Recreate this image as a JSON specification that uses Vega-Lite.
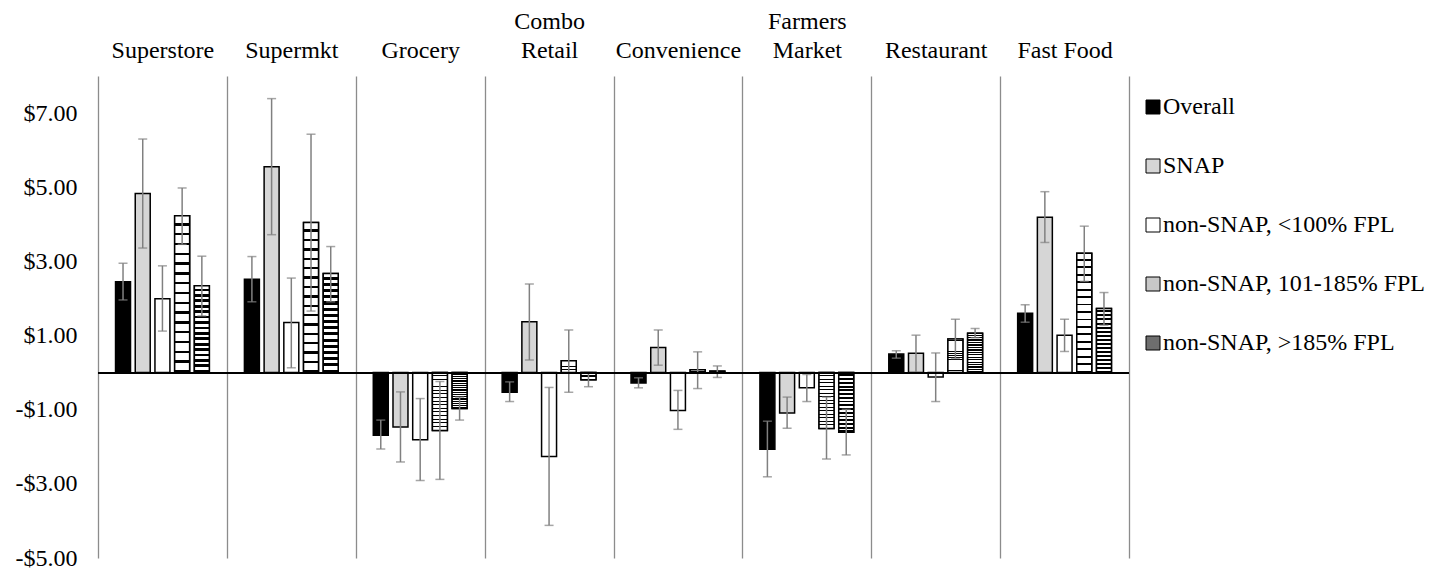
{
  "$schema": "https://vega.github.io/schema/vega-lite/v6.json",
  "autosize": {"type": "none"},
  "padding": {"left": 98, "top": 76, "right": 308, "bottom": 12},
  "width": 1031,
  "height": 482,
  "background": "white",
  "config": {
    "view": {"stroke": null},
    "font": "Liberation Serif"
  },
  "data": {
    "values": [
      {"cat": "Superstore", "grp": "Overall", "v": 2.45, "lo": 1.96, "hi": 2.95},
      {"cat": "Superstore", "grp": "SNAP", "v": 4.83, "lo": 3.36, "hi": 6.30},
      {"cat": "Superstore", "grp": "non-SNAP, <100% FPL", "v": 1.99, "lo": 1.12, "hi": 2.88},
      {"cat": "Superstore", "grp": "non-SNAP, 101-185% FPL", "v": 4.23, "lo": 3.46, "hi": 4.98},
      {"cat": "Superstore", "grp": "non-SNAP, >185% FPL", "v": 2.34, "lo": 1.53, "hi": 3.14},
      {"cat": "Supermkt", "grp": "Overall", "v": 2.52, "lo": 1.91, "hi": 3.13},
      {"cat": "Supermkt", "grp": "SNAP", "v": 5.55, "lo": 3.72, "hi": 7.39},
      {"cat": "Supermkt", "grp": "non-SNAP, <100% FPL", "v": 1.35, "lo": 0.13, "hi": 2.55},
      {"cat": "Supermkt", "grp": "non-SNAP, 101-185% FPL", "v": 4.05, "lo": 1.66, "hi": 6.43},
      {"cat": "Supermkt", "grp": "non-SNAP, >185% FPL", "v": 2.67, "lo": 1.91, "hi": 3.40},
      {"cat": "Grocery", "grp": "Overall", "v": -1.69, "lo": -2.06, "hi": -1.28},
      {"cat": "Grocery", "grp": "SNAP", "v": -1.47, "lo": -2.41, "hi": -0.52},
      {"cat": "Grocery", "grp": "non-SNAP, <100% FPL", "v": -1.81, "lo": -2.91, "hi": -0.70},
      {"cat": "Grocery", "grp": "non-SNAP, 101-185% FPL", "v": -1.56, "lo": -2.88, "hi": -0.24},
      {"cat": "Grocery", "grp": "non-SNAP, >185% FPL", "v": -0.97, "lo": -1.28, "hi": -0.66},
      {"cat": "Combo Retail", "grp": "Overall", "v": -0.53, "lo": -0.78, "hi": -0.25},
      {"cat": "Combo Retail", "grp": "SNAP", "v": 1.37, "lo": 0.34, "hi": 2.39},
      {"cat": "Combo Retail", "grp": "non-SNAP, <100% FPL", "v": -2.26, "lo": -4.12, "hi": -0.40},
      {"cat": "Combo Retail", "grp": "non-SNAP, 101-185% FPL", "v": 0.32, "lo": -0.53, "hi": 1.15},
      {"cat": "Combo Retail", "grp": "non-SNAP, >185% FPL", "v": -0.19, "lo": -0.38, "hi": 0.02},
      {"cat": "Convenience", "grp": "Overall", "v": -0.28, "lo": -0.41, "hi": -0.14},
      {"cat": "Convenience", "grp": "SNAP", "v": 0.68, "lo": 0.20, "hi": 1.15},
      {"cat": "Convenience", "grp": "non-SNAP, <100% FPL", "v": -1.02, "lo": -1.53, "hi": -0.48},
      {"cat": "Convenience", "grp": "non-SNAP, 101-185% FPL", "v": 0.08, "lo": -0.43, "hi": 0.56},
      {"cat": "Convenience", "grp": "non-SNAP, >185% FPL", "v": 0.04, "lo": -0.13, "hi": 0.18},
      {"cat": "Farmers Market", "grp": "Overall", "v": -2.07, "lo": -2.81, "hi": -1.31},
      {"cat": "Farmers Market", "grp": "SNAP", "v": -1.09, "lo": -1.50, "hi": -0.66},
      {"cat": "Farmers Market", "grp": "non-SNAP, <100% FPL", "v": -0.41, "lo": -0.78, "hi": -0.05},
      {"cat": "Farmers Market", "grp": "non-SNAP, 101-185% FPL", "v": -1.51, "lo": -2.33, "hi": -0.66},
      {"cat": "Farmers Market", "grp": "non-SNAP, >185% FPL", "v": -1.61, "lo": -2.22, "hi": -0.99},
      {"cat": "Restaurant", "grp": "Overall", "v": 0.50, "lo": 0.39, "hi": 0.59},
      {"cat": "Restaurant", "grp": "SNAP", "v": 0.52, "lo": 0.00, "hi": 1.01},
      {"cat": "Restaurant", "grp": "non-SNAP, <100% FPL", "v": -0.12, "lo": -0.78, "hi": 0.53},
      {"cat": "Restaurant", "grp": "non-SNAP, 101-185% FPL", "v": 0.91, "lo": 0.38, "hi": 1.44},
      {"cat": "Restaurant", "grp": "non-SNAP, >185% FPL", "v": 1.06, "lo": 0.94, "hi": 1.19},
      {"cat": "Fast Food", "grp": "Overall", "v": 1.60, "lo": 1.36, "hi": 1.83},
      {"cat": "Fast Food", "grp": "SNAP", "v": 4.19, "lo": 3.51, "hi": 4.88},
      {"cat": "Fast Food", "grp": "non-SNAP, <100% FPL", "v": 1.01, "lo": 0.57, "hi": 1.44},
      {"cat": "Fast Food", "grp": "non-SNAP, 101-185% FPL", "v": 3.22, "lo": 2.46, "hi": 3.95},
      {"cat": "Fast Food", "grp": "non-SNAP, >185% FPL", "v": 1.73, "lo": 1.28, "hi": 2.16}
    ]
  },
  "layer": [
    {
      "mark": {"type": "bar", "stroke": "black", "strokeWidth": 1.5},
      "encoding": {
        "x": {
          "field": "cat", "type": "nominal", "sort": null,
          "scale": {"paddingInner": 0, "paddingOuter": 0},
          "axis": {
            "orient": "top", "title": null, "domain": false, "ticks": false,
            "grid": true, "tickBand": "extent", "gridColor": "#8c8c8c", "gridWidth": 1.3,
            "labelFont": "Liberation Serif", "labelFontSize": 24, "labelColor": "black",
            "labelAngle": 0, "labelPadding": 48, "labelBaseline": "alphabetic", "labelLineHeight": 29.5,
            "labelLimit": 300,
            "labelExpr": "datum.label == 'Combo Retail' ? ['Combo', 'Retail'] : datum.label == 'Farmers Market' ? ['Farmers', 'Market'] : ['', datum.label]"
          }
        },
        "xOffset": {
          "field": "grp", "type": "nominal", "sort": null,
          "scale": {"paddingInner": 0.24, "paddingOuter": 0.89}
        },
        "y": {
          "field": "v", "type": "quantitative",
          "scale": {"domain": [-5, 8], "nice": false, "zero": false},
          "axis": {
            "title": null, "domain": false, "ticks": false, "grid": false,
            "values": [-5, -3, -1, 1, 3, 5, 7],
            "labelFont": "Liberation Serif", "labelFontSize": 24, "labelColor": "black",
            "labelPadding": 21,
            "labelExpr": "datum.value < 0 ? '-$' + format(abs(datum.value), '.2f') : '$' + format(datum.value, '.2f')"
          }
        },
        "fill": {
          "field": "grp", "type": "nominal", "sort": null,
          "scale": {
            "domain": ["Overall", "SNAP", "non-SNAP, <100% FPL", "non-SNAP, 101-185% FPL", "non-SNAP, >185% FPL"],
            "range": ["black", "#d6d6d6", "white", "#c8c8c8", "#6e6e6e"]
          },
          "legend": {
            "title": null, "orient": "none", "legendX": 1043, "legendY": 19,
            "padding": 0, "symbolType": "square", "symbolSize": 196,
            "symbolStrokeWidth": 1, "symbolStrokeColor": "black", "symbolOpacity": 1,
            "labelFont": "Liberation Serif", "labelFontSize": 24, "labelColor": "black",
            "labelOffset": -2, "labelLimit": 400, "rowPadding": 35,
            "encode": {
              "symbols": {
                "update": {
                  "fill": {"signal": "datum.value === 'Overall' ? 'black' : datum.value === 'SNAP' ? '#d6d6d6' : datum.value === 'non-SNAP, 101-185% FPL' ? {gradient: 'linear', x1: 0, y1: 0, x2: 0, y2: 1, stops: [{offset: 0, color: 'white'}, {offset: 0.42, color: 'white'}, {offset: 0.42, color: 'black'}, {offset: 0.58, color: 'black'}, {offset: 0.58, color: 'white'}, {offset: 1, color: 'white'}]} : datum.value === 'non-SNAP, >185% FPL' ? {gradient: 'linear', x1: 0, y1: 0, x2: 0, y2: 1, stops: [{offset: 0, color: 'black'}, {offset: 0.36, color: 'black'}, {offset: 0.36, color: 'white'}, {offset: 0.64, color: 'white'}, {offset: 0.64, color: 'black'}, {offset: 1, color: 'black'}]} : 'white'"},
                  "stroke": {"value": "black"}
                }
              }
            }
          }
        }
      }
    },
    {
      "transform": [{"filter": "datum.grp === 'non-SNAP, 101-185% FPL' || datum.grp === 'non-SNAP, >185% FPL'"}],
      "mark": {"type": "bar", "stroke": "black", "strokeWidth": 1.5},
      "encoding": {
        "x": {"field": "cat", "type": "nominal", "sort": null},
        "xOffset": {"field": "grp", "type": "nominal", "sort": null},
        "y": {"field": "v", "type": "quantitative"},
        "fill": {
          "condition": [
            {"test": "datum.grp === 'non-SNAP, 101-185% FPL'", "value":
              {"gradient": "linear", "x1": 0, "y1": 0, "x2": 0, "y2": 1, "stops": [
                {"offset": 0, "color": "white"}, {"offset": 0.046875, "color": "white"}, {"offset": 0.046875, "color": "black"}, {"offset": 0.0625, "color": "black"},
                {"offset": 0.0625, "color": "white"}, {"offset": 0.109375, "color": "white"}, {"offset": 0.109375, "color": "black"}, {"offset": 0.125, "color": "black"},
                {"offset": 0.125, "color": "white"}, {"offset": 0.171875, "color": "white"}, {"offset": 0.171875, "color": "black"}, {"offset": 0.1875, "color": "black"},
                {"offset": 0.1875, "color": "white"}, {"offset": 0.234375, "color": "white"}, {"offset": 0.234375, "color": "black"}, {"offset": 0.25, "color": "black"},
                {"offset": 0.25, "color": "white"}, {"offset": 0.296875, "color": "white"}, {"offset": 0.296875, "color": "black"}, {"offset": 0.3125, "color": "black"},
                {"offset": 0.3125, "color": "white"}, {"offset": 0.359375, "color": "white"}, {"offset": 0.359375, "color": "black"}, {"offset": 0.375, "color": "black"},
                {"offset": 0.375, "color": "white"}, {"offset": 0.421875, "color": "white"}, {"offset": 0.421875, "color": "black"}, {"offset": 0.4375, "color": "black"},
                {"offset": 0.4375, "color": "white"}, {"offset": 0.484375, "color": "white"}, {"offset": 0.484375, "color": "black"}, {"offset": 0.5, "color": "black"},
                {"offset": 0.5, "color": "white"}, {"offset": 0.546875, "color": "white"}, {"offset": 0.546875, "color": "black"}, {"offset": 0.5625, "color": "black"},
                {"offset": 0.5625, "color": "white"}, {"offset": 0.609375, "color": "white"}, {"offset": 0.609375, "color": "black"}, {"offset": 0.625, "color": "black"},
                {"offset": 0.625, "color": "white"}, {"offset": 0.671875, "color": "white"}, {"offset": 0.671875, "color": "black"}, {"offset": 0.6875, "color": "black"},
                {"offset": 0.6875, "color": "white"}, {"offset": 0.734375, "color": "white"}, {"offset": 0.734375, "color": "black"}, {"offset": 0.75, "color": "black"},
                {"offset": 0.75, "color": "white"}, {"offset": 0.796875, "color": "white"}, {"offset": 0.796875, "color": "black"}, {"offset": 0.8125, "color": "black"},
                {"offset": 0.8125, "color": "white"}, {"offset": 0.859375, "color": "white"}, {"offset": 0.859375, "color": "black"}, {"offset": 0.875, "color": "black"},
                {"offset": 0.875, "color": "white"}, {"offset": 0.921875, "color": "white"}, {"offset": 0.921875, "color": "black"}, {"offset": 0.9375, "color": "black"},
                {"offset": 0.9375, "color": "white"}, {"offset": 0.984375, "color": "white"}, {"offset": 0.984375, "color": "black"}, {"offset": 1, "color": "black"}
              ]}
            }
          ],
          "value":
              {"gradient": "linear", "x1": 0, "y1": 0, "x2": 0, "y2": 1, "stops": [
                {"offset": 0, "color": "white"}, {"offset": 0.03125, "color": "white"}, {"offset": 0.03125, "color": "black"}, {"offset": 0.0625, "color": "black"},
                {"offset": 0.0625, "color": "white"}, {"offset": 0.09375, "color": "white"}, {"offset": 0.09375, "color": "black"}, {"offset": 0.125, "color": "black"},
                {"offset": 0.125, "color": "white"}, {"offset": 0.15625, "color": "white"}, {"offset": 0.15625, "color": "black"}, {"offset": 0.1875, "color": "black"},
                {"offset": 0.1875, "color": "white"}, {"offset": 0.21875, "color": "white"}, {"offset": 0.21875, "color": "black"}, {"offset": 0.25, "color": "black"},
                {"offset": 0.25, "color": "white"}, {"offset": 0.28125, "color": "white"}, {"offset": 0.28125, "color": "black"}, {"offset": 0.3125, "color": "black"},
                {"offset": 0.3125, "color": "white"}, {"offset": 0.34375, "color": "white"}, {"offset": 0.34375, "color": "black"}, {"offset": 0.375, "color": "black"},
                {"offset": 0.375, "color": "white"}, {"offset": 0.40625, "color": "white"}, {"offset": 0.40625, "color": "black"}, {"offset": 0.4375, "color": "black"},
                {"offset": 0.4375, "color": "white"}, {"offset": 0.46875, "color": "white"}, {"offset": 0.46875, "color": "black"}, {"offset": 0.5, "color": "black"},
                {"offset": 0.5, "color": "white"}, {"offset": 0.53125, "color": "white"}, {"offset": 0.53125, "color": "black"}, {"offset": 0.5625, "color": "black"},
                {"offset": 0.5625, "color": "white"}, {"offset": 0.59375, "color": "white"}, {"offset": 0.59375, "color": "black"}, {"offset": 0.625, "color": "black"},
                {"offset": 0.625, "color": "white"}, {"offset": 0.65625, "color": "white"}, {"offset": 0.65625, "color": "black"}, {"offset": 0.6875, "color": "black"},
                {"offset": 0.6875, "color": "white"}, {"offset": 0.71875, "color": "white"}, {"offset": 0.71875, "color": "black"}, {"offset": 0.75, "color": "black"},
                {"offset": 0.75, "color": "white"}, {"offset": 0.78125, "color": "white"}, {"offset": 0.78125, "color": "black"}, {"offset": 0.8125, "color": "black"},
                {"offset": 0.8125, "color": "white"}, {"offset": 0.84375, "color": "white"}, {"offset": 0.84375, "color": "black"}, {"offset": 0.875, "color": "black"},
                {"offset": 0.875, "color": "white"}, {"offset": 0.90625, "color": "white"}, {"offset": 0.90625, "color": "black"}, {"offset": 0.9375, "color": "black"},
                {"offset": 0.9375, "color": "white"}, {"offset": 0.96875, "color": "white"}, {"offset": 0.96875, "color": "black"}, {"offset": 1, "color": "black"}
              ]}
        }
      }
    },
    {
      "mark": {"type": "rule", "color": "#808080", "strokeWidth": 1.5},
      "encoding": {
        "x": {"field": "cat", "type": "nominal", "sort": null},
        "xOffset": {"field": "grp", "type": "nominal", "sort": null},
        "y": {"field": "lo", "type": "quantitative"},
        "y2": {"field": "hi"}
      }
    },
    {
      "mark": {"type": "tick", "color": "#808080", "size": 9, "thickness": 1.5},
      "encoding": {
        "x": {"field": "cat", "type": "nominal", "sort": null},
        "xOffset": {"field": "grp", "type": "nominal", "sort": null},
        "y": {"field": "lo", "type": "quantitative"}
      }
    },
    {
      "mark": {"type": "tick", "color": "#808080", "size": 9, "thickness": 1.5},
      "encoding": {
        "x": {"field": "cat", "type": "nominal", "sort": null},
        "xOffset": {"field": "grp", "type": "nominal", "sort": null},
        "y": {"field": "hi", "type": "quantitative"}
      }
    },
    {
      "mark": {"type": "rule", "color": "black", "strokeWidth": 1.3},
      "encoding": {"y": {"datum": 0}}
    }
  ]
}
